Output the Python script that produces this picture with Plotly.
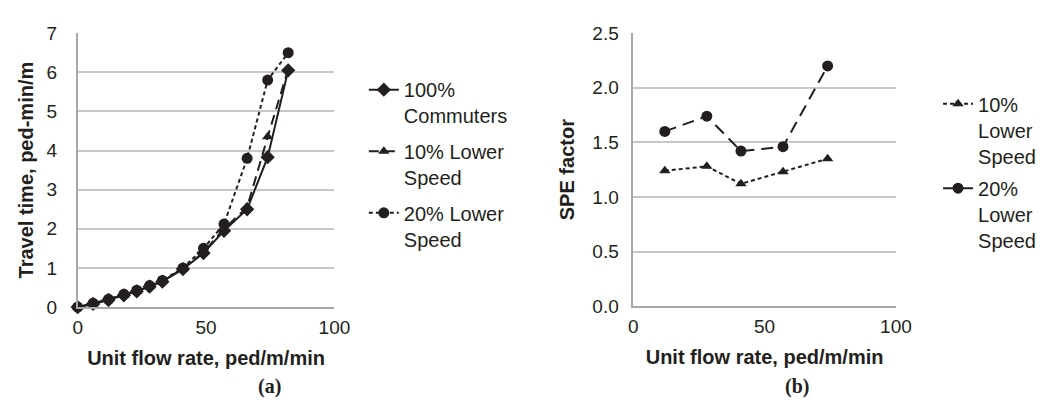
import plotly.graph_objects as go

# ---- data ----
flow_a = [0, 6, 12, 18, 23, 28, 33, 41, 49, 57, 66, 74, 82]
commuters = [0, 0.08, 0.18, 0.30, 0.40, 0.52, 0.65, 0.97, 1.38, 1.95, 2.50, 3.83, 6.05]
lower10 = [0, 0.08, 0.20, 0.30, 0.40, 0.53, 0.67, 0.98, 1.40, 2.00, 2.55, 4.35, 6.08]
lower20 = [0, 0.10, 0.20, 0.33, 0.43, 0.55, 0.68, 1.00, 1.50, 2.12, 3.80, 5.80, 6.50]

flow_b = [12, 28, 41, 57, 74]
spe10 = [1.24, 1.28, 1.12, 1.23, 1.35]
spe20 = [1.60, 1.74, 1.42, 1.46, 2.20]

names_a = ["100%<br>Commuters", "10% Lower<br>Speed", "20% Lower<br>Speed"]
names_b = ["10%<br>Lower<br>Speed", "20%<br>Lower<br>Speed"]

W, H = 1046, 402
INK = "#231f20"
FONT = "Liberation Sans, Arial, sans-serif"

def px_x(p):
    return p / W

def px_y(p):
    return 1 - p / H

fig = go.Figure()

def add(x, y, name, dash, symbol, size, xa, ya, legend):
    fig.add_trace(go.Scatter(
        x=x, y=y, name=name, mode="lines+markers",
        line=dict(color=INK, width=2, dash=dash),
        marker=dict(symbol=symbol, size=size, color=INK),
        xaxis=xa, yaxis=ya, legend=legend, cliponaxis=False,
    ))

add(flow_a, commuters, names_a[0], "solid", "diamond", 11, "x", "y", "legend")
add(flow_a, lower10, names_a[1], "10px,6px", "triangle-up", 10, "x", "y", "legend2")
add(flow_a, lower20, names_a[2], "4px,3px", "circle", 11, "x", "y", "legend3")
add(flow_b, spe10, names_b[0], "4px,3px", "triangle-up", 10, "x2", "y2", "legend4")
add(flow_b, spe20, names_b[1], "12px,7px", "circle", 11, "x2", "y2", "legend5")

axis_common = dict(
    showgrid=False, zeroline=False, showline=True, linecolor="#a8a8a8", linewidth=1.5,
    ticks="", ticklabelstandoff=2, tickfont=dict(family=FONT, size=19, color=INK),
)
yaxis_common = dict(
    showgrid=True, gridcolor="#c8c8c8", gridwidth=1.5, zeroline=False, showline=True,
    linecolor="#a8a8a8", linewidth=1.5, ticks="",
    tickfont=dict(family=FONT, size=19, color=INK),
)
title_font = dict(family=FONT, size=20, color=INK, weight="bold")

legend_common = dict(
    font=dict(family=FONT, size=20, color=INK), bgcolor="rgba(0,0,0,0)",
    borderwidth=0, xanchor="left", yanchor="top", valign="top", itemclick=False,
)

fig.update_layout(
    width=W, height=H, margin=dict(l=0, r=0, t=0, b=0),
    plot_bgcolor="white", paper_bgcolor="white",
    xaxis=dict(domain=[px_x(66), px_x(328)], range=[0, 100], tickvals=[0, 50, 100],
               anchor="y", title=dict(text="Unit flow rate, ped/m/min", font=title_font, standoff=14),
               **axis_common),
    yaxis=dict(domain=[px_y(305), px_y(16)], range=[0, 7], dtick=1, anchor="x",
               ticklabelstandoff=15,
               title=dict(text="Travel time, ped-min/m", font=title_font, standoff=8),
               **yaxis_common),
    xaxis2=dict(domain=[px_x(633), px_x(901)], range=[0, 100], tickvals=[0, 50, 100],
                anchor="y2", title=dict(text="Unit flow rate, ped/m/min", font=title_font, standoff=14),
                **axis_common),
    yaxis2=dict(domain=[px_y(304), px_y(16)], range=[0, 2.5], dtick=0.5, tickformat=".1f",
                anchor="x2", ticklabelstandoff=9,
                title=dict(text="SPE factor", font=title_font, standoff=12),
                **yaxis_common),
    legend=dict(x=px_x(358), y=px_y(55), **legend_common),
    legend2=dict(x=px_x(358), y=px_y(120), **legend_common),
    legend3=dict(x=px_x(358), y=px_y(185), **legend_common),
    legend4=dict(x=px_x(944), y=px_y(70), **legend_common),
    legend5=dict(x=px_x(944), y=px_y(159), **legend_common),
    showlegend=True,
)

for label, xp in (("<b>(a)</b>", 262), ("<b>(b)</b>", 800)):
    fig.add_annotation(text=label, x=px_x(xp), y=px_y(389), xref="paper", yref="paper",
                       xanchor="center", yanchor="middle", showarrow=False,
                       font=dict(family="Liberation Serif, Times New Roman, serif", size=20, color=INK))

fig.write_html("out.html")
